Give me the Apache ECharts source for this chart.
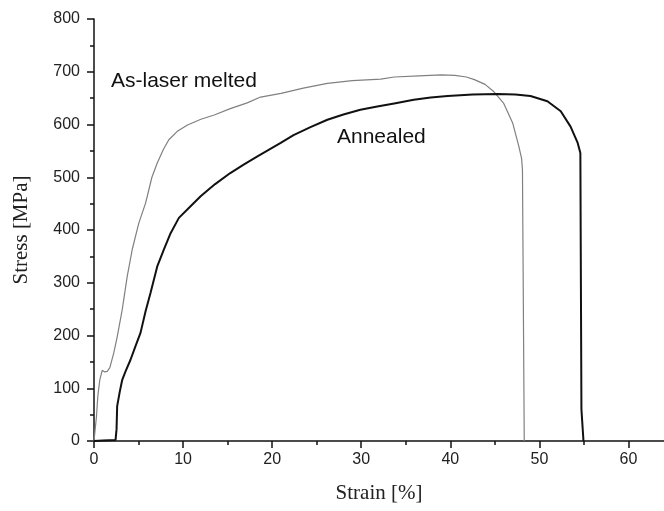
<!DOCTYPE html>
<html>
<head>
<meta charset="utf-8">
<script src="https://cdn.jsdelivr.net/npm/echarts@6/dist/echarts.min.js"></script>
<style>
  html, body { margin: 0; padding: 0; background: #fff; }
  #chart { width: 664px; height: 511px; }
</style>
</head>
<body>
<div id="chart"></div>
<script>
// As-laser melted (thin grey curve)
const meltedStrain = [0, 0.17, 0.28, 0.43, 0.65, 0.92, 1.2, 1.48, 1.78, 2.22, 2.61, 3.17, 3.73, 4.29, 5.03, 5.79, 5.98, 6.5, 7.1, 7.8, 8.4, 9.35, 10.5, 12.0, 13.5, 15.3, 17.2, 18.7, 21.0, 23.5, 26.2, 29.0, 32.2, 33.7, 36.5, 39.0, 40.5, 41.8, 42.7, 43.9, 44.9, 46.0, 47.0, 47.7, 48.0, 48.1, 48.3];
const meltedStress = [0, 0, 47, 85, 116, 134, 131, 132, 139, 167, 198, 249, 312, 363, 413, 451, 464, 500, 527, 553, 571, 587, 599, 610, 618, 630, 641, 652, 659, 669, 678, 683, 686, 690, 692, 694, 693, 690, 685, 676, 662, 640, 603, 558, 536, 514, 0];

// Annealed (thick black curve)
const annealedStrain = [0, 1.0, 2.42, 2.53, 2.6, 2.9, 3.17, 3.54, 4.1, 4.66, 5.22, 5.79, 6.35, 7.1, 7.84, 8.6, 9.53, 10.84, 11.97, 13.6, 15.3, 16.8, 18.3, 20.96, 22.4, 24.3, 26.2, 28.0, 29.9, 31.8, 33.7, 35.9, 37.8, 39.7, 42.5, 45.3, 47.3, 49.0, 50.9, 52.4, 53.5, 54.3, 54.6, 54.7, 54.72, 54.95];
const annealedStress = [0, 1, 2, 22, 66, 94, 116, 132, 154, 180, 205, 246, 281, 331, 363, 394, 423, 445, 464, 487, 508, 524, 539, 565, 580, 595, 609, 619, 628, 634, 640, 647, 651, 654, 657, 658, 657, 654, 644, 625, 596, 565, 546, 543, 60, 0];

const xTicks = { min: 0, max: 65, interval: 10 };
const yTicks = { min: 0, max: 800, interval: 100 };

const pairs = (xs, ys) => xs.map((x, i) => [x, ys[i]]);

const chart = echarts.init(document.getElementById('chart'));

const axisCommon = {
  type: 'value',
  splitLine: { show: false },
  axisLine: { show: true, lineStyle: { color: '#111', width: 1.5 } },
  axisTick: { show: true, inside: false, length: 7, lineStyle: { color: '#111', width: 1.5 } },
  minorTick: { show: true, splitNumber: 2, length: 4, lineStyle: { color: '#111', width: 1.5 } },
  axisLabel: { color: '#222', fontFamily: 'Liberation Sans, Arial, sans-serif', fontSize: 16 },
  nameLocation: 'middle',
  nameTextStyle: { color: '#222', fontFamily: 'Liberation Serif, Times New Roman, serif', fontSize: 21 }
};

chart.setOption({
  animation: false,
  backgroundColor: '#fff',
  // plot runs past the right edge: 65 % sits just outside the picture
  grid: { left: 94, width: 579, top: 19, bottom: 70, containLabel: false, outerBoundsMode: 'none' },
  xAxis: Object.assign({}, axisCommon, {
    min: xTicks.min, max: xTicks.max, interval: xTicks.interval,
    name: 'Strain [%]', nameGap: 42,
    // axis centre is off to the right of the visible part, nudge title back
    nameTextStyle: Object.assign({}, axisCommon.nameTextStyle, { padding: [0, 9, 0, 0] }),
    axisLabel: Object.assign({}, axisCommon.axisLabel, { margin: 11, showMaxLabel: false })
  }),
  yAxis: Object.assign({}, axisCommon, {
    min: yTicks.min, max: yTicks.max, interval: yTicks.interval,
    name: 'Stress [MPa]', nameGap: 62,
    axisLabel: Object.assign({}, axisCommon.axisLabel, { margin: 14 })
  }),
  series: [
    {
      name: 'As-laser melted',
      type: 'line',
      data: pairs(meltedStrain, meltedStress),
      showSymbol: false,
      lineStyle: { color: '#808080', width: 1.2 },
      z: 2
    },
    {
      name: 'Annealed',
      type: 'line',
      data: pairs(annealedStrain, annealedStress),
      showSymbol: false,
      lineStyle: { color: '#111', width: 2 },
      z: 3
    }
  ],
  graphic: [
    {
      type: 'text', left: 111, top: 71,
      style: { text: 'As-laser melted', fontSize: 21, fontFamily: 'Liberation Sans, Arial, sans-serif', fill: '#111' }
    },
    {
      type: 'text', left: 337, top: 127,
      style: { text: 'Annealed', fontSize: 21, fontFamily: 'Liberation Sans, Arial, sans-serif', fill: '#111' }
    }
  ]
});
</script>
</body>
</html>
